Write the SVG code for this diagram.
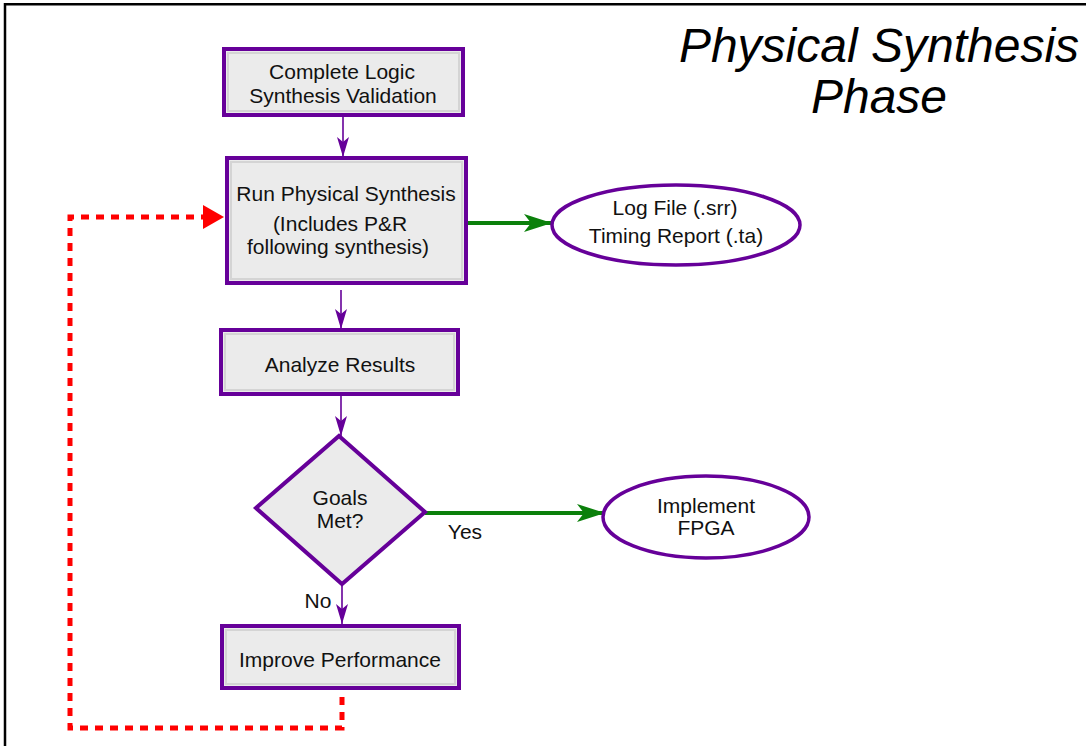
<svg xmlns="http://www.w3.org/2000/svg" width="1086" height="746" viewBox="0 0 1086 746">
  <style>
    .frame { fill: none; stroke: #000; stroke-width: 2.5; }
    .box { fill: #ebebeb; stroke: #660099; stroke-width: 4; }
    .bevel { fill: none; stroke: #d4d4d4; stroke-width: 2; }
    .oval { fill: #fff; stroke: #660099; stroke-width: 3.5; }
    .label { font-family: "Liberation Sans", Arial, sans-serif; font-size: 21px; fill: #111; text-anchor: middle; }
    .title { font-family: "Liberation Sans", Arial, sans-serif; font-size: 48px; font-style: italic; fill: #000; text-anchor: middle; }
    .flow { stroke: #660099; stroke-width: 1.6; fill: none; }
    .pass { stroke: #0b800b; stroke-width: 4; fill: none; }
    .loop { stroke: #ff0000; stroke-width: 5; fill: none; stroke-dasharray: 8 7; }
  </style>
  <defs>
    <marker id="headPurple" markerUnits="userSpaceOnUse" markerWidth="20" markerHeight="12" viewBox="0 0 20 12" refX="20" refY="6" orient="auto">
      <path d="M0,0 L20,6 L0,12 L5,6 Z" fill="#660099"/>
    </marker>
    <marker id="headGreen" markerUnits="userSpaceOnUse" markerWidth="28" markerHeight="18" viewBox="0 0 28 18" refX="28" refY="9" orient="auto">
      <path d="M0,0 L28,9 L0,18 L7,9 Z" fill="#0b800b"/>
    </marker>
  </defs>

  <rect width="1086" height="746" fill="#fff"/>
  <path class="frame" d="M1086,4.3 H5 V746"/>

  <g id="title">
    <text class="title" x="879" y="62">Physical Synthesis</text>
    <text class="title" x="879" y="113">Phase</text>
  </g>

  <g id="connectors">
    <line class="flow" x1="343" y1="116" x2="343" y2="157" marker-end="url(#headPurple)"/>
    <line class="flow" x1="341" y1="290" x2="341" y2="329" marker-end="url(#headPurple)"/>
    <line class="flow" x1="341" y1="395" x2="341" y2="436" marker-end="url(#headPurple)"/>
    <line class="flow" x1="342" y1="585" x2="342" y2="624" marker-end="url(#headPurple)"/>
    <line class="pass" x1="467" y1="223" x2="552" y2="223" marker-end="url(#headGreen)"/>
    <line class="pass" x1="425" y1="513" x2="605" y2="513" marker-end="url(#headGreen)"/>
    <polyline class="loop" points="342,697 342,728 70,728 70,217 204,217"/>
    <polygon points="203,205 224,217 203,229" fill="#ff0000"/>
    <text class="label" x="465" y="539">Yes</text>
    <text class="label" x="318" y="608">No</text>
  </g>

  <g id="complete-logic">
    <rect class="box" x="224" y="49" width="239" height="66"/>
    <rect class="bevel" x="228" y="53" width="231" height="58"/>
    <text class="label" x="342" y="79">Complete Logic</text>
    <text class="label" x="343" y="103">Synthesis Validation</text>
  </g>

  <g id="run-physical">
    <rect class="box" x="227" y="158" width="239" height="125"/>
    <rect class="bevel" x="231" y="162" width="231" height="117"/>
    <text class="label" x="346" y="201">Run Physical Synthesis</text>
    <text class="label" x="340" y="231">(Includes P&amp;R</text>
    <text class="label" x="338" y="254">following synthesis)</text>
  </g>

  <g id="reports">
    <ellipse class="oval" cx="676" cy="225" rx="124" ry="40"/>
    <text class="label" x="675" y="215">Log File (.srr)</text>
    <text class="label" x="676" y="243">Timing Report (.ta)</text>
  </g>

  <g id="analyze">
    <rect class="box" x="221" y="330" width="237" height="64"/>
    <rect class="bevel" x="225" y="334" width="229" height="56"/>
    <text class="label" x="340" y="372">Analyze Results</text>
  </g>

  <g id="goals">
    <polygon class="box" points="339,436 425,512 342,584 256,508"/>
    <text class="label" x="340" y="505">Goals</text>
    <text class="label" x="340" y="528">Met?</text>
  </g>

  <g id="implement">
    <ellipse class="oval" cx="706" cy="517" rx="103" ry="41"/>
    <text class="label" x="706" y="513">Implement</text>
    <text class="label" x="706" y="535">FPGA</text>
  </g>

  <g id="improve">
    <rect class="box" x="222" y="626" width="237" height="62"/>
    <rect class="bevel" x="226" y="630" width="229" height="54"/>
    <text class="label" x="340" y="667">Improve Performance</text>
  </g>
</svg>
